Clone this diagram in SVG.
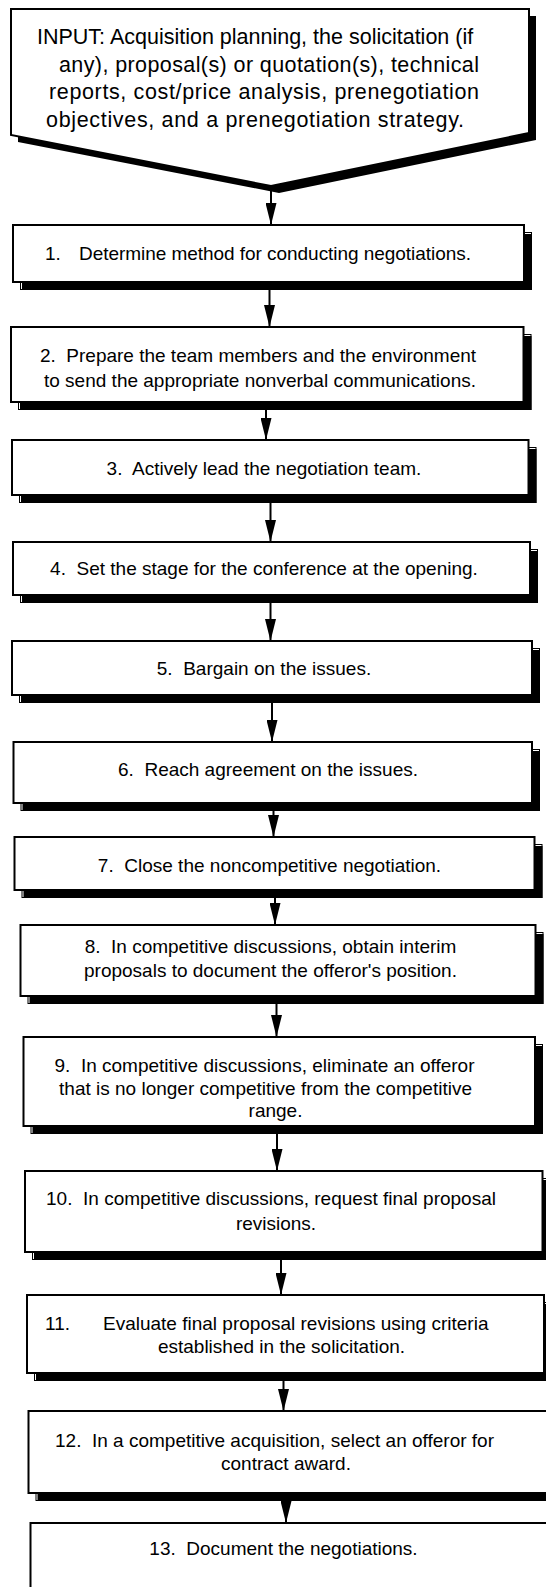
<svg xmlns="http://www.w3.org/2000/svg" width="546" height="1587" viewBox="0 0 546 1587">
<style>
.box{fill:#fff;stroke:#000;stroke-width:2}
.sho{fill:none;stroke:#000;stroke-width:1}
.shf{fill:#000;stroke:none}
.t{font-family:"Liberation Sans",Arial,sans-serif;font-size:19px;fill:#000;text-anchor:middle;white-space:pre}
.ts{font-family:"Liberation Sans",Arial,sans-serif;font-size:19px;fill:#000;white-space:pre}
.ti{font-family:"Liberation Sans",Arial,sans-serif;font-size:21.5px;fill:#000;white-space:pre}
.conn{stroke:#000;stroke-width:2;fill:none;marker-end:url(#ah)}
</style>
<defs>
<marker id="ah" markerUnits="userSpaceOnUse" markerWidth="22" markerHeight="11" viewBox="0 0 22 11" refX="22" refY="5.5" orient="auto">
<path d="M0,0 L22,5.5 L0,11 Z" fill="#000"/>
</marker>
</defs>
<rect width="546" height="1587" fill="#fff"/>

<g id="input">
<polygon class="shf" points="18,16 536,16 536,140 279,193 18,142"/>
<polygon class="box" points="11,9 529,9 529,133 271,186 11,135"/>
<text class="ti" x="37" y="44">INPUT: Acquisition planning, the solicitation (if</text>
<text class="ti" x="59" y="71.5" textLength="420" lengthAdjust="spacing">any), proposal(s) or quotation(s), technical</text>
<text class="ti" x="49" y="99" textLength="430" lengthAdjust="spacing">reports, cost/price analysis, prenegotiation</text>
<text class="ti" x="46" y="126.5" textLength="418" lengthAdjust="spacing">objectives, and a prenegotiation strategy.</text>
</g>

<g id="n1">
<rect class="sho" x="20.5" y="232.5" width="511" height="57"/><rect class="shf" x="22" y="234" width="510" height="56"/>
<rect class="box" x="13" y="225" width="511" height="57"/>
<text class="ts" x="45" y="260">1.<tspan x="79" textLength="392" lengthAdjust="spacing">Determine method for conducting negotiations.</tspan></text>
</g>
<g id="n2">
<rect class="sho" x="18.5" y="334.5" width="512.5" height="75"/><rect class="shf" x="20" y="336" width="511.5" height="74"/>
<rect class="box" x="11" y="327" width="512.5" height="75"/>
<text class="t" x="258" y="362">2.  Prepare the team members and the environment</text>
<text class="t" x="260" y="387">to send the appropriate nonverbal communications.</text>
</g>
<g id="n3">
<rect class="sho" x="19.5" y="447.5" width="516.5" height="55"/><rect class="shf" x="21" y="449" width="515.5" height="54"/>
<rect class="box" x="12" y="440" width="516.5" height="55"/>
<text class="t" x="264" y="475">3.  Actively lead the negotiation team.</text>
</g>
<g id="n4">
<rect class="sho" x="20.5" y="549.5" width="517" height="53"/><rect class="shf" x="22" y="551" width="516" height="52"/>
<rect class="box" x="13" y="542" width="517" height="53"/>
<text class="t" x="264" y="575">4.  Set the stage for the conference at the opening.</text>
</g>
<g id="n5">
<rect class="sho" x="19.5" y="648.5" width="520" height="54"/><rect class="shf" x="21" y="650" width="519" height="53"/>
<rect class="box" x="12" y="641" width="520" height="54"/>
<text class="t" x="264" y="675">5.  Bargain on the issues.</text>
</g>
<g id="n6">
<rect class="sho" x="21" y="749.5" width="518.5" height="61"/><rect class="shf" x="22.5" y="751" width="517.5" height="60"/>
<rect class="box" x="13.5" y="742" width="518.5" height="61"/>
<text class="t" x="268" y="776">6.  Reach agreement on the issues.</text>
</g>
<g id="n7">
<rect class="sho" x="22" y="844.5" width="520" height="53"/><rect class="shf" x="23.5" y="846" width="519" height="52"/>
<rect class="box" x="14.5" y="837" width="520" height="53"/>
<text class="t" x="269.5" y="872">7.  Close the noncompetitive negotiation.</text>
</g>
<g id="n8">
<rect class="sho" x="28" y="932.5" width="515" height="71"/><rect class="shf" x="29.5" y="934" width="514" height="70"/>
<rect class="box" x="20.5" y="925" width="515" height="71"/>
<text class="t" x="270.5" y="953">8.  In competitive discussions, obtain interim</text>
<text class="t" x="270.5" y="977">proposals to document the offeror's position.</text>
</g>
<g id="n9">
<rect class="sho" x="31" y="1044.5" width="511.5" height="89"/><rect class="shf" x="32.5" y="1046" width="510.5" height="88"/>
<rect class="box" x="23.5" y="1037" width="511.5" height="89"/>
<text class="t" x="264.5" y="1072">9.  In competitive discussions, eliminate an offeror</text>
<text class="t" x="265.5" y="1095">that is no longer competitive from the competitive</text>
<text class="t" x="275.5" y="1117">range.</text>
</g>
<g id="n10">
<rect class="sho" x="32.5" y="1178.5" width="517.5" height="81"/><rect class="shf" x="34" y="1180" width="516.5" height="80"/>
<rect class="box" x="25" y="1171" width="517.5" height="81"/>
<text class="t" x="271" y="1205">10.  In competitive discussions, request final proposal</text>
<text class="t" x="276" y="1230">revisions.</text>
</g>
<g id="n11">
<rect class="sho" x="34.5" y="1302.5" width="517" height="78"/><rect class="shf" x="36" y="1304" width="516" height="77"/>
<rect class="box" x="27" y="1295" width="517" height="78"/>
<text class="ts" x="45" y="1330">11.<tspan x="103">Evaluate final proposal revisions using criteria</tspan></text>
<text class="t" x="281.5" y="1353">established in the solicitation.</text>
</g>
<g id="n12">
<rect class="sho" x="36" y="1418.5" width="519.5" height="82"/><rect class="shf" x="37.5" y="1420" width="518.5" height="81"/>
<rect class="box" x="28.5" y="1411" width="519.5" height="82"/>
<text class="t" x="274.5" y="1447">12.  In a competitive acquisition, select an offeror for</text>
<text class="t" x="286" y="1470">contract award.</text>
</g>
<g id="n13">
<rect class="sho" x="38" y="1530.5" width="530" height="100"/><rect class="shf" x="39.5" y="1532" width="529" height="99"/>
<rect class="box" x="30.5" y="1523" width="530" height="100"/>
<text class="t" x="283.5" y="1555">13.  Document the negotiations.</text>
</g>

<g id="connectors">
<line class="conn" x1="271" y1="190" x2="271" y2="225"/>
<line class="conn" x1="269.5" y1="282" x2="269.5" y2="327"/>
<line class="conn" x1="266" y1="402" x2="266" y2="440"/>
<line class="conn" x1="270.5" y1="495" x2="270.5" y2="542"/>
<line class="conn" x1="270.5" y1="595" x2="270.5" y2="641"/>
<line class="conn" x1="272" y1="695" x2="272" y2="742"/>
<line class="conn" x1="273.5" y1="803" x2="273.5" y2="837"/>
<line class="conn" x1="275" y1="890" x2="275" y2="925"/>
<line class="conn" x1="276.5" y1="996" x2="276.5" y2="1037"/>
<line class="conn" x1="277" y1="1126" x2="277" y2="1171"/>
<line class="conn" x1="281" y1="1252" x2="281" y2="1295"/>
<line class="conn" x1="283.5" y1="1373" x2="283.5" y2="1411"/>
<line class="conn" x1="286" y1="1493" x2="286" y2="1523"/>
</g>
</svg>
